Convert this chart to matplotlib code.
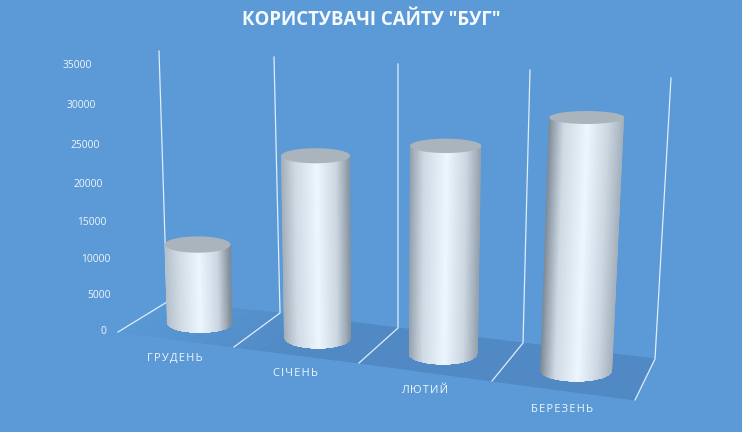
import numpy as np
import matplotlib
matplotlib.use('Agg')
import matplotlib.pyplot as plt
from matplotlib.colors import LinearSegmentedColormap
from matplotlib.path import Path

# data
months = ['ГРУДЕНЬ', 'СІЧЕНЬ', 'ЛЮТИЙ', 'БЕРЕЗЕНЬ']
users = [10900, 24500, 27100, 32000]
tick_values = [0, 5000, 10000, 15000, 20000, 25000, 30000, 35000]
title = 'КОРИСТУВАЧІ САЙТУ "БУГ"'

# perspective frame in pixels: one entry per category boundary
frame_front_x = [118, 234, 359, 492, 635]
frame_front_y = [332, 347, 363, 381, 400]
frame_back_x = [167, 280, 398, 523, 655]
frame_back_y = [302, 313, 328, 343, 359]
frame_top_x = [159, 274, 398, 530, 671]
frame_top_y = [51, 57, 64, 70, 78]

base_width = [65, 67, 69, 72]
base_ry = [9.5, 11, 11, 11]
edge_left = ['#b4c0cb', '#a3afba', '#93a0ac', '#7f8c98']
edge_right = ['#7d8a96', '#86939f', '#95a1ad', '#a4b0bb']

axis_max = tick_values[-1]
bg = '#5b9ad6'
floor_dark = '#5089c4'
text_col = '#f0f6fc'
hair = '\u200a'  # letter spacing of the category labels


def floor_point(u, v):
    # u runs along the categories, v from front (0) to back (1)
    fx = np.interp(u, range(5), frame_front_x)
    fy = np.interp(u, range(5), frame_front_y)
    bx = np.interp(u, range(5), frame_back_x)
    by = np.interp(u, range(5), frame_back_y)
    return fx + (bx - fx) * v, fy + (by - fy) * v


def lean(u):
    # vector of a full-height wall line at position u
    bx = np.interp(u, range(5), frame_back_x)
    by = np.interp(u, range(5), frame_back_y)
    tx = np.interp(u, range(5), frame_top_x)
    ty = np.interp(u, range(5), frame_top_y)
    return tx - bx, ty - by


def tick_pos(value):
    # value axis is slightly foreshortened towards the bottom
    f = value / axis_max
    f = f * (0.93 + 0.07 * f)
    return 103 - 26 * f, 331.5 - 266 * f


fig = plt.figure(figsize=(7.42, 4.32), dpi=100, facecolor=bg)
ax = fig.add_axes([0, 0, 1, 1])
ax.set_xlim(0, 742)
ax.set_ylim(432, 0)
ax.axis('off')

# floor, fading out towards the left
us = np.linspace(0, 4, 41)
fl = np.array([[floor_point(u, v) for u in us] for v in (0, 1)])
shade = np.tile(np.clip(us / 1.6, 0, 1), (2, 1))
floor_cmap = LinearSegmentedColormap.from_list('floor', ['#5999d5', floor_dark])
ax.pcolormesh(fl[:, :, 0], fl[:, :, 1], shade, cmap=floor_cmap, shading='gouraud', zorder=1)

# wall lines
for i in range(5):
    ax.plot([frame_front_x[i], frame_back_x[i], frame_top_x[i]],
            [frame_front_y[i], frame_back_y[i], frame_top_y[i]],
            color='#e0edfa', lw=0.9, zorder=2, solid_joinstyle='miter')

# cylinders
for i, val in enumerate(users):
    u = i + 0.5
    cx, cy = floor_point(u, 0.5)
    frac = val / axis_max
    dx, dy = lean(u)
    tx, ty = cx + dx * frac, cy + dy * frac
    w_b = base_width[i]
    w_t = w_b * (1 + 0.045 * frac)
    ry_b = base_ry[i]
    ry_t = ry_b * (1 - 0.45 * frac)

    t = np.linspace(0, 1, 61)
    xs = np.vstack([cx - w_b / 2 + t * w_b, tx - w_t / 2 + t * w_t])
    ys = np.vstack([np.full_like(t, cy + ry_b + 2), np.full_like(t, ty - 1)])
    cmap = LinearSegmentedColormap.from_list('cyl%d' % i, [
        (0.0, edge_left[i]), (0.2, '#cfdae4'), (0.52, '#ecf7ff'),
        (0.8, '#cbd6e1'), (1.0, edge_right[i])])
    mesh = ax.pcolormesh(xs, ys, np.vstack([t, t]), cmap=cmap,
                         vmin=0, vmax=1, shading='gouraud', zorder=3)

    ang = np.linspace(np.pi, 0, 60)
    arc_x = cx + w_b / 2 * np.cos(ang)
    arc_y = cy + ry_b * np.sin(ang)
    side = np.column_stack([np.r_[tx - w_t / 2, arc_x, tx + w_t / 2],
                            np.r_[ty, arc_y, ty]])
    mesh.set_clip_path(Path(np.vstack([side, side[0]])), ax.transData)

    ang = np.linspace(0, 2 * np.pi, 90)
    ax.fill(tx + w_t / 2 * np.cos(ang), ty + ry_t * np.sin(ang),
            color='#a9b4bd', lw=0, zorder=4)

    lx, ly = floor_point(u, 0)
    ax.text(lx - 1, ly + 18.5, hair.join(months[i]), ha='center', va='center',
            color=text_col, fontsize=8, family=['Open Sans', 'DejaVu Sans'], zorder=5)

# value labels
for val in tick_values:
    x, y = tick_pos(val)
    ax.text(x, y, str(val), ha='center', va='center', color=text_col,
            fontsize=7.4, family='Open Sans')

ax.text(371, 20, title, ha='center', va='center', color='#f7fafd',
        fontsize=13.4, fontweight='bold', family='Open Sans')

fig.savefig('out.png', dpi=100, facecolor=bg)
